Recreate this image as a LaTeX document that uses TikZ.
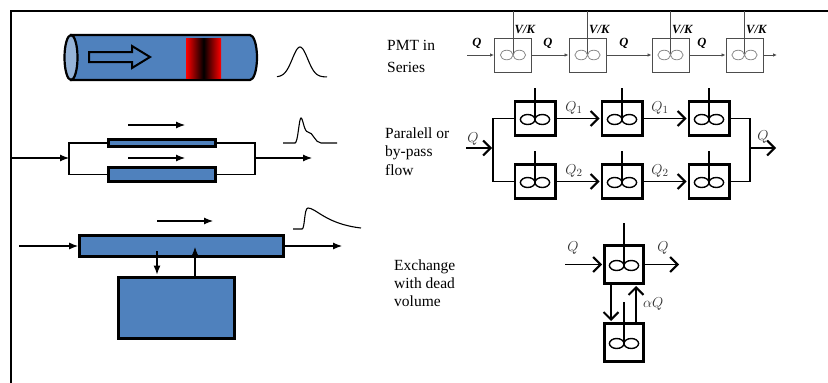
\documentclass[tikz,border=0pt]{standalone}
\usepackage{fontspec}
\setmainfont{Liberation Serif}
\usetikzlibrary{arrows.meta,calc}

\definecolor{tubeblue}{HTML}{4F81BD}
\definecolor{faceblue}{HTML}{95B3D7}
\definecolor{pmtline}{HTML}{4D4D4D}
\definecolor{impline}{HTML}{8A8A8A}

\begin{document}
\begin{tikzpicture}[x=1pt,y=-1pt,
  frameline/.style={line width=1.6pt},
  tube/.style={draw, fill=tubeblue, line width=2.8pt, inner sep=0pt},
  pipe/.style={line width=1.1pt},
  solidhead/.style={-{Latex[length=9pt,width=7pt]}},
  pulse/.style={line width=1.1pt},
  pmtbox/.style={draw=pmtline, line width=0.9pt, minimum width=37pt, minimum height=34pt, inner sep=0pt},
  pmtflow/.style={draw=pmtline, line width=0.9pt, -{Latex[length=4pt,width=3.5pt]}},
  pmtlbl/.style={font=\fontsize{12.5}{14}\selectfont\bfseries\itshape, inner sep=0pt},
  cstr/.style={draw, line width=2.6pt, minimum width=40.4pt, minimum height=34.4pt, inner sep=0pt},
  stirrer/.style={line width=2.6pt},
  oarrow/.style={line width=1.4pt, shorten >=1pt, -{Straight Barb[length=7.5pt,width=15pt,line width=2pt]}},
  qlbl/.style={font=\fontsize{15}{17}\selectfont, text=black!80, inner sep=0pt},
  caption/.style={font=\fontsize{15.5}{18}\selectfont, anchor=base west, inner sep=0pt},
  pics/smallimp/.style={code={
    \draw[impline, line width=0.8pt] (-6.3pt,0) ellipse[x radius=6.3pt, y radius=4.8pt]
      (6.3pt,0) ellipse[x radius=6.3pt, y radius=4.8pt];}},
  pics/bigimp/.style={code={
    \draw[line width=1.4pt] (-7.3pt,0) ellipse[x radius=7.3pt, y radius=5pt]
      (7.3pt,0) ellipse[x radius=7.3pt, y radius=5pt];}},
]
\useasboundingbox (0,0) rectangle (828,383);

% frame
\coordinate (ftop) at (11,11);
\draw[frameline] (11,383) -- (ftop) -- (828,11);

% ---------- plug flow tube ----------
\draw[line width=2.2pt, fill=tubeblue] (71,35) -- (250,35)
  arc[start angle=90, end angle=-90, x radius=7pt, y radius=22.5pt] -- (71,80) -- cycle;
\shade[left color=red, right color=red, middle color=black] (186,38.5) rectangle (221,78.5);
\draw[line width=2.2pt, fill=faceblue] (71,57.5) ellipse[x radius=6.5pt, y radius=22.5pt];
\draw[line width=2pt, fill=tubeblue, line join=miter]
  (89,52) -- (132,52) -- (132,46) -- (150,57) -- (132,68) -- (132,62) -- (89,62) -- cycle;
\draw[pulse] plot[domain=277:327, samples=60, smooth]
  (\x, {77-30*exp(-((\x-300)^2)/117)});

% ---------- parallel tubes ----------
\node[tube, minimum width=107pt, minimum height=7.5pt] (pa) at (162,143) {};
\node[tube, minimum width=107pt, minimum height=14pt] (pb) at (162,174.5) {};
\coordinate (pin) at (11,158);
\coordinate (pj) at (69,158);
\coordinate (pk) at (255,158);
\coordinate (pout) at (312,158);
\draw[pipe, solidhead] (pin) -- (pj);
\draw[pipe] (pa.west) -| (pj) |- (pb.west);
\draw[pipe] (pa.east) -| (pk) |- (pb.east);
\draw[pipe, solidhead] (pk) -- (pout);
\coordinate (fa1) at (128,125); \coordinate (fa2) at (185,125);
\coordinate (fb1) at (128,158); \coordinate (fb2) at (185,158);
\draw[pipe, solidhead] (fa1) -- (fa2);
\draw[pipe, solidhead] (fb1) -- (fb2);
\draw[pulse] (283,143) -- (295,143) .. controls (298,143) and (299,118) .. (301,118)
  .. controls (303,118) and (304,132) .. (308,132) .. controls (313,132) and (315,143) .. (321,143)
  -- (337,143);

% ---------- exchange with dead volume ----------
\node[tube, minimum width=204pt, minimum height=21pt] (ex) at (181.5,246) {};
\node[tube, minimum width=116pt, minimum height=61pt] (dead) at (176.5,308) {};
\coordinate (exin) at (19,246);
\coordinate (exout) at (342,246);
\draw[pipe, solidhead] (exin) -- (ex.west);
\draw[pipe, solidhead] (ex.east) -- (exout);
\coordinate (fc1) at (157,221); \coordinate (fc2) at (213,221);
\draw[pipe, solidhead] (fc1) -- (fc2);
\coordinate (dtop) at (157,251);
\coordinate (utop) at (195,247);
\draw[pipe, solidhead, shorten >=1.5pt] (dtop) -- (dtop |- dead.north);
\draw[pipe, solidhead] (utop |- dead.north) -- (utop);
\draw[pulse] (293,229) -- (302,229) .. controls (305,229) and (304,208) .. (308,208)
  .. controls (316,208) and (326,224) .. (361,228);

% ---------- captions ----------
\node[caption] (cap1a) at (387,50) {PMT in};
\node[caption] (cap1b) at (387,72) {Series};
\node[caption] (cap2a) at (385,138) {Paralell or};
\node[caption] (cap2b) at (385,156.5) {by-pass};
\node[caption] (cap2c) at (385,175) {flow};
\node[caption] (cap3a) at (394,270) {Exchange};
\node[caption] (cap3b) at (394,288) {with dead};
\node[caption] (cap3c) at (394,306) {volume};

% ---------- tanks in series ----------
\foreach \i/\x in {1/513,2/587.5,3/670.5,4/744.5}{
  \node[pmtbox] (p\i) at (\x,55) {};
  \draw[pmtline, line width=0.9pt] (p\i.center |- ftop) -- (p\i.center);
  \pic at (p\i.center) {smallimp};
  \node[pmtlbl, anchor=base west] at (\x+1.5,33) {V/K};
}
\coordinate (pmin) at (467,55);
\coordinate (pmout) at (777,55);
\draw[pmtflow] (pmin) -- (p1);
\draw[pmtflow] (p1) -- (p2);
\draw[pmtflow] (p2) -- (p3);
\draw[pmtflow] (p3) -- (p4);
\draw[pmtflow] (p4) -- (pmout);
\foreach \x in {477,548,624,702}{
  \node[pmtlbl, anchor=base] at (\x,46) {Q};
}

% ---------- parallel tank trains ----------
\foreach \n/\x/\y in {c1/535/118.5,c2/622/118.5,c3/709/118.5,c4/535/181.5,c5/622/181.5,c6/709/181.5}{
  \node[cstr] (\n) at (\x,\y) {};
  \draw[stirrer] (\n.center) -- ++(0,-31);
  \pic at ($(\n.center)+(0,1)$) {bigimp};
}
\draw[oarrow] (c1) -- (c2);
\draw[oarrow] (c2) -- (c3);
\draw[oarrow] (c4) -- (c5);
\draw[oarrow] (c5) -- (c6);
\node[qlbl, anchor=base] at (574,111) {$Q_1$};
\node[qlbl, anchor=base] at (660,111) {$Q_1$};
\node[qlbl, anchor=base] at (574,174) {$Q_2$};
\node[qlbl, anchor=base] at (660,174) {$Q_2$};
\coordinate (qin) at (466,148);
\coordinate (qj) at (493,148);
\coordinate (qk) at (750,148);
\coordinate (qout) at (777,148);
\draw[oarrow] (qin) -- (qj);
\draw[pipe] (c1.west) -| (qj) |- (c4.west);
\draw[pipe] (c3.east) -| (qk) |- (c6.east);
\draw[oarrow] (qk) -- (qout);
\node[qlbl, anchor=base] at (473,142) {$Q$};
\node[qlbl, anchor=base] at (763,140) {$Q$};

% ---------- tank with dead volume ----------
\node[cstr, minimum width=39.4pt, minimum height=38.4pt] (e1) at (624,264.5) {};
\node[cstr, minimum width=39.4pt, minimum height=38.4pt] (e2) at (624,342.5) {};
\draw[stirrer] (e1.center) -- ++(0,-41.5);
\draw[stirrer] (e2.center) -- ++(0,-40.5);
\pic at ($(e1.center)+(0,1)$) {bigimp};
\pic at ($(e2.center)+(0,1)$) {bigimp};
\coordinate (ein) at (565,264.5);
\coordinate (eout) at (680,264.5);
\draw[oarrow] (ein) -- (e1);
\draw[oarrow] (e1) -- (eout);
\coordinate (edn) at (611,300);
\coordinate (eup) at (636,300);
\draw[oarrow] (edn |- e1.south) -- (edn |- e2.north);
\draw[oarrow] (eup |- e2.north) -- (eup |- e1.south);
\node[qlbl, anchor=base] at (573,251) {$Q$};
\node[qlbl, anchor=base] at (663,251) {$Q$};
\node[qlbl, anchor=base west] at (643,307) {$\alpha Q$};
\end{tikzpicture}
\end{document}
